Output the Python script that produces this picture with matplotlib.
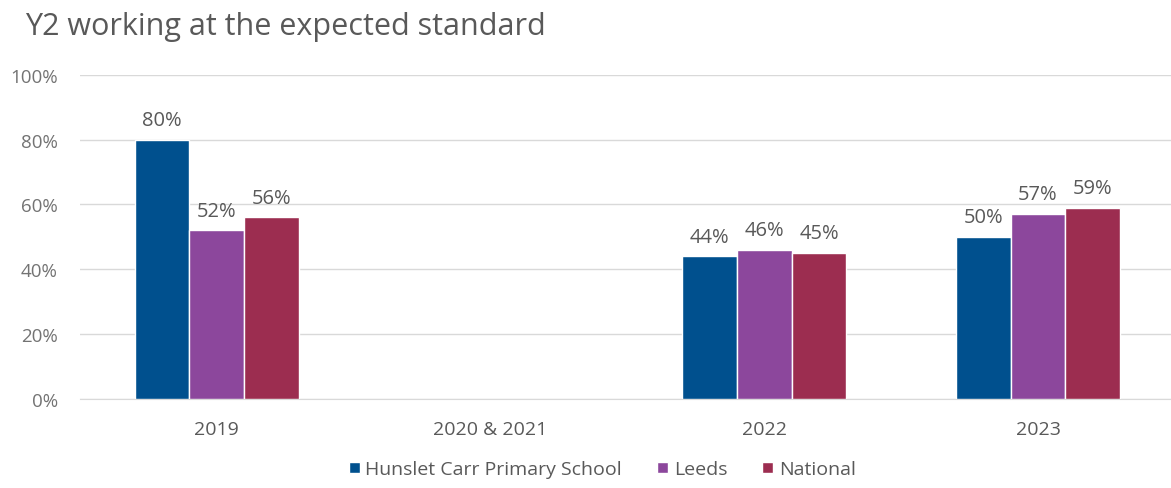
import numpy as np
import matplotlib
matplotlib.use("Agg")
import matplotlib.pyplot as plt
from matplotlib.ticker import PercentFormatter

categories = ["2019", "2020 & 2021", "2022", "2023"]
series_names = ["Hunslet Carr Primary School", "Leeds", "National"]
school = [80, np.nan, 44, 50]
leeds = [52, np.nan, 46, 57]
national = [56, np.nan, 45, 59]
colors = ["#00508E", "#8C479C", "#9C2D50"]

plt.rcParams["font.family"] = ["Open Sans", "DejaVu Sans"]
grey = "#595959"
light = "#737373"

fig = plt.figure(figsize=(11.71, 4.89), dpi=100)
ax = fig.add_axes([0.0683, 0.182, 0.935, 0.663])

x = np.arange(len(categories))
w = 0.2
for i, (vals, name, c) in enumerate(zip([school, leeds, national], series_names, colors)):
    pos = x + (i - 1) * w
    ax.bar(pos, vals, width=w, color=c, edgecolor="white", linewidth=1, label=name, zorder=3)
    for p, v in zip(pos, vals):
        if not np.isnan(v):
            ax.text(p, v + 3, f"{v:.0f}%", ha="center", va="bottom", fontsize=14.5, color=grey)

ax.set_xlim(-0.5, len(categories) - 0.5)
ax.set_ylim(0, 100)
ax.set_yticks(range(0, 101, 20))
ax.yaxis.set_major_formatter(PercentFormatter(decimals=0))
ax.set_xticks(x)
ax.set_xticklabels(categories)
ax.grid(axis="y", color="#D9D9D9", linewidth=1, zorder=0)
for s in ["top", "right", "left"]:
    ax.spines[s].set_visible(False)
ax.spines["bottom"].set_color("#D9D9D9")
ax.tick_params(axis="y", length=0, labelsize=13.5, colors=light, pad=16)
ax.tick_params(axis="x", length=0, labelsize=14, colors=grey, pad=15)

fig.text(0.021, 0.945, "Y2 working at the expected standard", fontsize=22, color=grey, ha="left", va="center")

ax.legend(loc="upper center", bbox_to_anchor=(0.477, -0.135), ncol=3, frameon=False,
          fontsize=14, labelcolor=grey, handlelength=0.55, handleheight=0.55,
          handletextpad=0.3, columnspacing=1.8)

fig.savefig("out.png", dpi=100)
